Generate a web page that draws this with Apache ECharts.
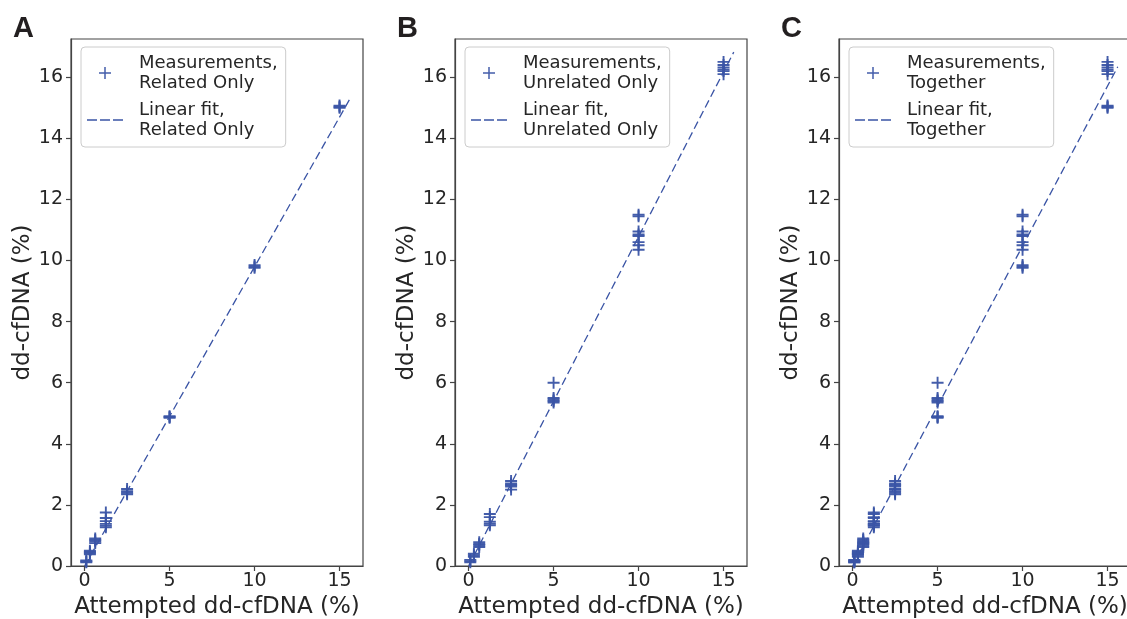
<!DOCTYPE html>
<html>
<head>
<meta charset="utf-8">
<script src="https://cdn.jsdelivr.net/npm/echarts@6/dist/echarts.min.js"></script>
<style>
html,body{margin:0;padding:0;background:#fff;overflow:hidden;}
#chart{width:1127px;height:619px;}
</style>
</head>
<body>
<div id="chart"></div>
<script>
// Attempted dd-cfDNA levels (%)
const xLevels = [0.1, 0.3125, 0.625, 1.25, 2.5, 5, 10, 15];
// Measured dd-cfDNA (%) per level, related donors
const relatedY = [
  [0.12, 0.15, 0.18],
  [0.38, 0.42, 0.46, 0.5],
  [0.75, 0.8, 0.85, 0.9],
  [1.75, 1.57, 1.47, 1.38, 1.32, 1.27],
  [2.35, 2.4, 2.45, 2.52],
  [4.85, 4.88, 4.9],
  [9.76, 9.8, 9.85],
  [15.0, 15.03, 15.07]
];
// Measured dd-cfDNA (%) per level, unrelated donors
const unrelatedY = [
  [0.12, 0.16, 0.2],
  [0.3, 0.35, 0.4],
  [0.62, 0.68, 0.72, 0.78],
  [1.7, 1.6, 1.45, 1.38, 1.33],
  [2.5, 2.6, 2.65, 2.7, 2.78],
  [6.0, 5.5, 5.45, 5.4, 5.35],
  [11.5, 11.45, 10.95, 10.85, 10.8, 10.6, 10.5, 10.35],
  [16.5, 16.4, 16.32, 16.25, 16.2, 16.1]
];
// Linear fit end points [x, y]
const fitRelated = [[0, 0], [15.6, 15.28]];
const fitUnrelated = [[0, 0], [15.6, 16.82]];
const fitTogether = [[0, 0], [15.6, 16.34]];

const xTicks = [0, 5, 10, 15];
const yTicks = [0, 2, 4, 6, 8, 10, 12, 14, 16];
const panelLetters = ['A', 'B', 'C'];
const scatterNames = ['Measurements,\nRelated Only', 'Measurements,\nUnrelated Only', 'Measurements,\nTogether'];
const fitNames = ['Linear fit,\nRelated Only', 'Linear fit,\nUnrelated Only', 'Linear fit,\nTogether'];

function toPoints(levels, ys) {
  const pts = [];
  levels.forEach((x, i) => ys[i].forEach(y => pts.push([x, y])));
  return pts;
}
const ptsA = toPoints(xLevels, relatedY);
const ptsB = toPoints(xLevels, unrelatedY);
const ptsC = ptsA.concat(ptsB);
const pointSets = [ptsA, ptsB, ptsC];
const fitSets = [fitRelated, fitUnrelated, fitTogether];

const BLUE = '#3a54a5';
const TXT = '#262626';
const SPINE = '#444444';
const FONT = 'DejaVu Sans';
const PLUS = 'path://M0,5.05H12V6.95H0Z M5.05,0H6.95V12H5.05Z';
const LEGEND_PLUS = 'path://M0,5.25H12V6.75H0Z M5.25,0H6.75V12H5.25Z';
const DASH_ICON = 'path://M0,0H10V1.3H0Z M13,0H23V1.3H13Z M26,0H36V1.3H26Z';

const lefts = [71, 455, 839];
const W = 292, TOP = 39, H = 527;

const grids = [], xAxes = [], yAxes = [], series = [], legends = [], titles = [];
for (let p = 0; p < 3; p++) {
  grids.push({left: lefts[p], top: TOP, width: W, height: H, show: true,
    borderColor: SPINE, borderWidth: 1.2, backgroundColor: 'transparent',
    containLabel: false, outerBoundsMode: 'none'});
  xAxes.push({
    type: 'value', gridIndex: p, min: -0.8, max: 16.38,
    name: 'Attempted dd-cfDNA (%)', nameLocation: 'middle', nameGap: 29,
    nameTextStyle: {fontFamily: FONT, fontSize: 23, color: TXT},
    axisLine: {show: true, onZero: false, lineStyle: {color: SPINE, width: 1.2}},
    axisTick: {show: true, length: 5, lineStyle: {color: SPINE, width: 1.2}, customValues: xTicks},
    axisLabel: {fontFamily: FONT, fontSize: 19, color: TXT, margin: 6, customValues: xTicks},
    splitLine: {show: false}
  });
  yAxes.push({
    type: 'value', gridIndex: p, min: 0, max: 17.25,
    name: 'dd-cfDNA (%)', nameLocation: 'middle', nameGap: 34,
    nameTextStyle: {fontFamily: FONT, fontSize: 23, color: TXT},
    axisLine: {show: true, onZero: false, lineStyle: {color: SPINE, width: 1.2}},
    axisTick: {show: true, length: 5, lineStyle: {color: SPINE, width: 1.2}, customValues: yTicks},
    axisLabel: {fontFamily: FONT, fontSize: 19, color: TXT, margin: 8, customValues: yTicks},
    splitLine: {show: false}
  });
  series.push({
    type: 'scatter', name: scatterNames[p], xAxisIndex: p, yAxisIndex: p,
    data: pointSets[p], symbol: PLUS, symbolSize: 12,
    itemStyle: {color: BLUE, opacity: 0.95}, z: 3
  });
  series.push({
    type: 'line', name: fitNames[p], xAxisIndex: p, yAxisIndex: p,
    data: fitSets[p], symbol: 'none', showSymbol: false, clip: true,
    lineStyle: {color: BLUE, width: 1.3, type: [8, 4]}, itemStyle: {color: BLUE}, z: 2
  });
  legends.push({
    left: lefts[p] + 10, top: 47, orient: 'vertical',
    data: [{name: scatterNames[p], icon: LEGEND_PLUS}, {name: fitNames[p], icon: DASH_ICON}],
    itemWidth: 36, itemHeight: 12, itemGap: 7,
    padding: [6, 8, 7, 6],
    backgroundColor: '#ffffff', borderColor: '#cccccc', borderWidth: 1, borderRadius: 4,
    selectedMode: false,
    textStyle: {fontFamily: FONT, fontSize: 18, color: TXT, lineHeight: 20, padding: [0, 0, 0, 11]}
  });
  titles.push({
    text: panelLetters[p], left: lefts[p] - 58, top: 14, padding: 0,
    textStyle: {fontFamily: 'Liberation Sans', fontSize: 29, fontWeight: 'bold', color: '#231f20'}
  });
}

const chart = echarts.init(document.getElementById('chart'), null, {renderer: 'canvas'});
chart.setOption({
  animation: false,
  backgroundColor: '#ffffff',
  title: titles,
  grid: grids,
  xAxis: xAxes,
  yAxis: yAxes,
  legend: legends,
  series: series
});
</script>
</body>
</html>
